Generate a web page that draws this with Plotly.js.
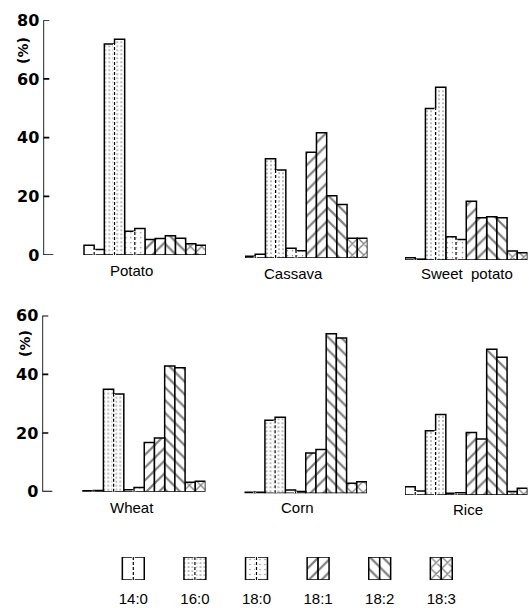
<!DOCTYPE html>
<html>
<head>
<meta charset="utf-8">
<script src="https://cdn.plot.ly/plotly-3.0.1.min.js"></script>
<style>
  html, body { margin: 0; padding: 0; background: #fff; }
  #chart { width: 529px; height: 608px; }
</style>
</head>
<body>
<div id="chart"></div>
<script>
// Fatty acid composition (%) of starch lipids, two samples per fatty acid
const categories = ['14:0', '16:0', '18:0', '18:1', '18:2', '18:3'];

const potatoA      = [3.3, 71.9, 8.1, 5.3, 6.6, 3.8];
const potatoB      = [1.9, 73.5, 9.0, 5.6, 5.7, 3.3];
const cassavaA     = [0.6, 33.8, 3.3, 36.0, 21.2, 6.7];
const cassavaB     = [1.3, 30.0, 2.5, 42.7, 18.2, 6.7];
const sweetPotatoA = [0.8, 51.6, 7.9, 20.0, 14.7, 3.1];
const sweetPotatoB = [0.3, 58.9, 7.0, 14.4, 14.4, 2.5];
const wheatA       = [0.3, 34.9, 0.7, 16.8, 42.8, 3.2];
const wheatB       = [0.4, 33.3, 1.4, 18.3, 42.2, 3.6];
const cornA        = [0.4, 24.9, 1.1, 13.7, 54.4, 3.4];
const cornB        = [0.4, 25.9, 0.6, 14.9, 52.9, 3.9];
const riceA        = [2.8, 21.9, 0.6, 21.3, 49.7, 1.2];
const riceB        = [1.4, 27.4, 0.8, 19.1, 46.9, 2.3];

const topTicks = [0, 20, 40, 60, 80];
const bottomTicks = [0, 20, 40, 60];
const axisTitle = '(%)';

// Fill pattern for each fatty acid
const patShape    = ['', '.', '.', '/', '\\', 'x'];
const patSize     = [8, 4, 5, 9, 9, 8];
const patSolidity = [0.2, 0.14, 0.07, 0.25, 0.25, 0.3];
// Fatty acids whose paired bars are split by a dashed line
const dashedCats  = ['14:0', '16:0', '18:0'];

// Page geometry (pixels)
const W = 529, H = 608;
const px = v => v / W;
const py = v => 1 - v / H;
const PX_PER_UNIT = 2.935;

const panels = [
  { name: 'Potato',        a: potatoA,      b: potatoB,      x0: 84,    x1: 206,   base: 255,   ymax: 80, axisX: 43.3, ticks: topTicks,    label: [131, 270], title: [23, 51] },
  { name: 'Cassava',       a: cassavaA,     b: cassavaB,     x0: 245,   x1: 367.5, base: 258,   ymax: 80, label: [293, 273] },
  { name: 'Sweet  potato', a: sweetPotatoA, b: sweetPotatoB, x0: 405,   x1: 527.5, base: 260,   ymax: 80, label: [467, 274] },
  { name: 'Wheat',         a: wheatA,       b: wheatB,       x0: 83,    x1: 205.5, base: 491.7, ymax: 60, axisX: 42.3, ticks: bottomTicks, label: [132, 507], title: [25, 344] },
  { name: 'Corn',          a: cornA,        b: cornB,        x0: 244.5, x1: 367,   base: 493.3, ymax: 60, label: [297, 507] },
  { name: 'Rice',          a: riceA,        b: riceB,        x0: 405,   x1: 527.5, base: 495,   ymax: 60, label: [468, 509] }
];

const axId = i => (i === 1 ? '' : String(i));
const catPos = categories.map((c, k) => k);   // position of each fatty acid on the x axis

function barTrace(vals, i, extra) {
  return Object.assign({
    type: 'bar', x: catPos, y: vals,
    xaxis: 'x' + axId(i), yaxis: 'y' + axId(i),
    marker: {
      color: 'white',
      line: { color: 'black', width: 1.5 },
      pattern: { shape: patShape, size: patSize, solidity: patSolidity,
                 fgcolor: 'black', bgcolor: 'white', fillmode: 'overlay' }
    },
    hoverinfo: 'skip', showlegend: false
  }, extra || {});
}

function centerLines(a, b, i) {
  const xs = [], ys = [];
  categories.forEach((c, k) => {
    if (dashedCats.includes(c)) { xs.push(catPos[k], catPos[k], null); ys.push(0, Math.min(a[k], b[k]), null); }
  });
  const common = { type: 'scatter', mode: 'lines', x: xs, y: ys,
    xaxis: 'x' + axId(i), yaxis: 'y' + axId(i), hoverinfo: 'skip', showlegend: false };
  return [
    Object.assign({}, common, { line: { color: 'white', width: 3 } }),
    Object.assign({}, common, { line: { color: 'black', width: 1.2, dash: '3px,2px' } })
  ];
}

const data = [];
const layout = {
  width: W, height: H,
  margin: { l: 0, r: 0, t: 0, b: 0 },
  showlegend: false,
  barmode: 'group', bargap: 0, bargroupgap: 0,
  font: { family: 'Liberation Sans, Arial, sans-serif', color: 'black' },
  annotations: []
};

panels.forEach((p, idx) => {
  const i = idx + 1;
  data.push(barTrace(p.a, i), barTrace(p.b, i));
  data.push(...centerLines(p.a, p.b, i));

  const topPx = p.base - p.ymax * PX_PER_UNIT;
  const unitsPerPx = categories.length / (p.x1 - p.x0);
  // Panels carrying the value axis extend their x range leftwards to the axis line
  const left = p.axisX !== undefined ? p.axisX : p.x0;
  const xStart = -0.5 - (p.x0 - left) * unitsPerPx;
  layout['xaxis' + axId(i)] = {
    type: 'linear', range: [xStart, categories.length - 0.5],
    domain: [px(left), px(p.x1)], anchor: 'y' + axId(i),
    showline: false, showgrid: false, zeroline: false, ticks: '', showticklabels: false
  };
  const ya = {
    range: [0, p.ymax], domain: [py(p.base), py(topPx)], anchor: 'x' + axId(i),
    showgrid: false, zeroline: false
  };
  if (p.ticks) {
    Object.assign(ya, {
      showline: false, ticks: '',
      tickvals: p.ticks,
      ticklabelstandoff: 3,
      tickfont: { family: 'DejaVu Sans', size: 16, weight: 'bold', color: 'black' }
    });
    // Axis spine with inward tick marks, drawn on the panel's own scales
    const sx = [xStart, xStart, null], sy = [0, p.ymax, null];
    p.ticks.forEach(t => {
      const len = (t === 0 ? 10 : 6) * unitsPerPx;
      sx.push(xStart, xStart + len, null);
      sy.push(t, t, null);
    });
    data.push({
      type: 'scatter', mode: 'lines', x: sx, y: sy,
      xaxis: 'x' + axId(i), yaxis: 'y' + axId(i), cliponaxis: false,
      line: { color: 'black', width: 1.7 }, hoverinfo: 'skip', showlegend: false
    });
    layout.annotations.push({
      xref: 'paper', yref: 'paper', x: px(p.title[0]), y: py(p.title[1]),
      text: axisTitle, textangle: -90, showarrow: false,
      xanchor: 'center', yanchor: 'middle',
      font: { family: 'DejaVu Sans', size: 14, weight: 'bold', color: 'black' }
    });
  } else {
    Object.assign(ya, { visible: false });
  }
  layout['yaxis' + axId(i)] = ya;

  layout.annotations.push({
    xref: 'paper', yref: 'paper', x: px(p.label[0]), y: py(p.label[1]),
    text: p.name, showarrow: false, xanchor: 'center', yanchor: 'middle',
    font: { family: 'Liberation Sans', size: 15, color: 'black' }
  });
});

// Key: a pair of swatch boxes for each fatty acid
const keyA = categories.map(() => 1);
const keyB = categories.map(() => 1);
data.push(barTrace(keyA, 7, { width: 0.178, offset: -0.178 }));
data.push(barTrace(keyB, 7, { width: 0.178, offset: 0 }));
data.push(...centerLines(keyA, keyB, 7));
layout.xaxis7 = {
  type: 'linear', range: [-0.5, categories.length - 0.5],
  domain: [px(102.5), px(472.1)], anchor: 'y7',
  showline: false, showgrid: false, zeroline: false, ticks: '',
  tickmode: 'array', tickvals: catPos, ticktext: categories,
  ticklabelstandoff: 8,
  tickfont: { family: 'Liberation Sans', size: 15, color: 'black' }
};
layout.yaxis7 = { range: [0, 1], domain: [py(580), py(557)], anchor: 'x7', visible: false };

Plotly.newPlot('chart', data, layout, { staticPlot: true, displayModeBar: false });
</script>
</body>
</html>
